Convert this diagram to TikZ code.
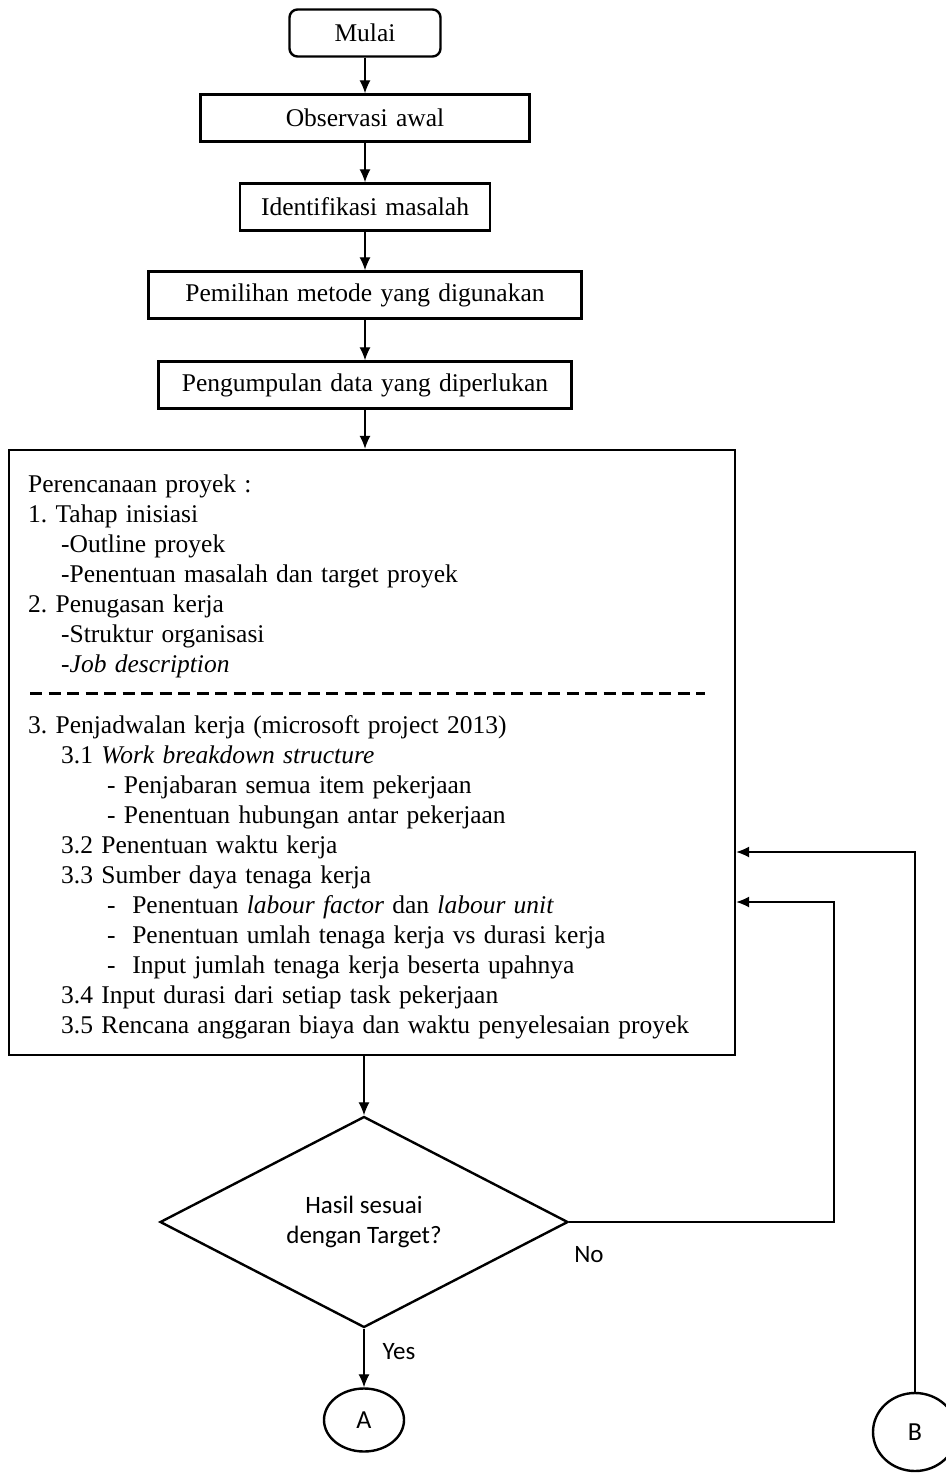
\documentclass[tikz,border=0pt]{standalone}
\usepackage{fontspec}
\setmainfont{Liberation Serif}[WordSpace=1.3]
\newfontfamily\carlito{Carlito}
\usepackage{tikz}
\usetikzlibrary{arrows.meta}
\usetikzlibrary{shapes.geometric}
\usetikzlibrary{positioning}
\frenchspacing

\begin{document}
\begin{tikzpicture}[x=1pt, y=-1pt,
    stepbox/.style={draw, line width=2.4pt, minimum height=47pt, inner sep=0pt,
                    font=\fontsize{25.5}{30}\selectfont},
    item/.style={anchor=base west, inner sep=0pt, font=\fontsize{25.5}{30}\selectfont},
    flow/.style={-{Latex[length=13pt, width=11pt]}, line width=1.3pt},
    connector/.style={ellipse, draw, line width=2.4pt, inner sep=0pt,
                      font=\carlito\fontsize{26}{30}\selectfont},
    answer/.style={anchor=center, inner sep=0pt, font=\carlito\fontsize{25}{30}\selectfont}]

    \useasboundingbox (0,0) rectangle (945,1475);

    % process steps
    \node[stepbox, rounded corners=8pt, minimum width=151pt] (mulai) at (365,33) {Mulai};
    \node[stepbox, minimum width=329pt] (observasi) at (365,118) {Observasi awal};
    \node[stepbox, minimum width=250pt] (identifikasi) at (365,207) {Identifikasi masalah};
    \node[stepbox, minimum width=433pt] (metode) at (365,295) {Pemilihan metode yang digunakan};
    \node[stepbox, minimum width=413pt] (data) at (365,385) {Pengumpulan data yang diperlukan};

    % planning box
    \node[stepbox, minimum width=726pt, minimum height=605pt] (plan) at (372,752.5) {};

    % planning items
    \begin{scope}[every node/.style={item}]
        \node (p1) at (28,492) {Perencanaan proyek :};
        \node (p2) at (28,522) {1. Tahap inisiasi};
        \node (p3) at (61,552) {-Outline proyek};
        \node (p4) at (61,582) {-Penentuan masalah dan target proyek};
        \node (p5) at (28,612) {2. Penugasan kerja};
        \node (p6) at (61,642) {-Struktur organisasi};
        \node (p7) at (61,672) {-\textit{Job description}};
        \node (p8) at (28,733) {3. Penjadwalan kerja (microsoft project 2013)};
        \node (p9) at (61,763) {3.1 \textit{Work breakdown structure}};
        \node (p10) at (107,793) {- Penjabaran semua item pekerjaan};
        \node (p11) at (107,823) {- Penentuan hubungan antar pekerjaan};
        \node (p12) at (61,853) {3.2 Penentuan waktu kerja};
        \node (p13) at (61,883) {3.3 Sumber daya tenaga kerja};
        \node (p14) at (107,913) {-\ \ Penentuan \textit{labour factor} dan \textit{labour unit}};
        \node (p15) at (107,943) {-\ \ Penentuan umlah tenaga kerja vs durasi kerja};
        \node (p16) at (107,973) {-\ \ Input jumlah tenaga kerja beserta upahnya};
        \node (p17) at (61,1003) {3.4 Input durasi dari setiap task pekerjaan};
        \node (p18) at (61,1033) {3.5 Rencana anggaran biaya dan waktu penyelesaian proyek};
    \end{scope}

    % separator
    \draw[line width=3pt, dash pattern=on 12pt off 6.5pt] (30,693) -- (705,693);

    % decision
    \node[diamond, draw, line width=2.4pt, inner sep=0pt, minimum width=408pt,
          minimum height=211pt, align=center,
          font=\carlito\fontsize{25}{30}\selectfont] (hasil) at (364,1222)
          {Hasil sesuai\\dengan Target?};

    % connectors A and B
    \node[connector, minimum width=80pt, minimum height=63pt] (a) at (364,1420) {A};
    \node[connector, minimum width=84pt, minimum height=78pt] (b) at (915,1432) {B};

    % answers
    \node[answer] (no) at (589,1255) {No};
    \node[answer] (yes) at (399,1352) {Yes};

    % flow
    \draw[flow] (mulai) -- (observasi);
    \draw[flow] (observasi) -- (identifikasi);
    \draw[flow] (identifikasi) -- (metode);
    \draw[flow] (metode) -- (data);
    \draw[flow] (data.south) -- (data.south |- plan.north);
    \draw[flow] (hasil.north |- plan.south) -- (hasil.north);
    \draw[flow] (hasil) -- (a);

    % loops back
    \coordinate (n1) at (834,1222);
    \coordinate (n2) at (834,902);
    \coordinate (b1) at (915,852);
    \draw[flow] (hasil.east) -- (n1) -- (n2) -- (n2 -| plan.east);
    \draw[flow] (b.north) -- (b1) -- (b1 -| plan.east);

\end{tikzpicture}
\end{document}
